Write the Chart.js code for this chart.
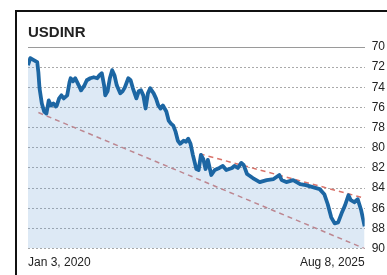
<!DOCTYPE html>
<html>
<head>
<meta charset="utf-8">
<title>USDINR</title>
<script src="https://cdn.jsdelivr.net/npm/chart.js@4/dist/chart.umd.min.js"></script>
<style>
  html, body { margin: 0; padding: 0; background: #fff; }
  #wrap { position: relative; width: 387px; height: 275px; overflow: hidden; }
  #frame {
    position: absolute; left: 15px; top: 10px; width: 420px; height: 300px;
    border-top: 2px solid #111; border-left: 2px solid #111;
  }
  #chart { position: absolute; left: 0; top: 0; }
</style>
</head>
<body>
<div id="wrap">
  <div id="frame"></div>
  <canvas id="chart" width="392" height="278"></canvas>
</div>
<script>
// USDINR weekly close, Jan 3 2020 -> Aug 8 2025 (x = weeks since start)
const weeks = [0, 2, 5, 8, 9, 10, 12, 14, 16, 18, 20, 22, 24, 25, 27, 29, 31, 34, 36, 37,
  39, 41, 44, 46, 49, 51, 54, 57, 60, 62, 64, 66, 67, 69, 71, 73, 75, 77, 80, 82,
  84, 87, 89, 91, 94, 96, 98, 100, 102, 104, 106, 109, 111, 113, 115, 117, 120, 122, 124, 126,
  128, 130, 132, 135, 137, 139, 141, 143, 146, 148, 150, 152, 154, 156, 158, 159, 162, 166, 169, 172,
  177, 179, 182, 185, 187, 190, 195, 201, 207, 213, 218, 220, 224, 230, 236, 241, 247, 253, 257, 260,
  263, 266, 269, 272, 275, 278, 280, 283, 286, 289, 292];
const usdinr = [71.8, 71.1, 71.3, 71.5, 72.5, 74.1, 75.6, 76.4, 76.6, 75.3, 75.8, 75.6, 75.9, 75.8, 75.1, 74.8, 75.1, 74.8, 73.5, 73.1,
  73.4, 73.1, 73.8, 74.3, 73.8, 73.3, 73.1, 73.0, 73.1, 72.8, 72.6, 73.8, 74.8, 74.4, 73.1, 72.3, 72.8, 73.8, 74.6, 74.4,
  74.0, 73.1, 73.3, 74.1, 75.1, 74.4, 74.3, 74.8, 76.1, 74.6, 74.1, 74.6, 75.1, 75.8, 76.1, 75.8, 76.4, 77.3, 77.6, 77.8,
  78.4, 79.3, 79.6, 79.3, 79.4, 79.1, 79.6, 80.7, 82.1, 82.2, 80.7, 81.1, 82.1, 81.2, 82.2, 82.7, 82.2, 82.0, 81.8, 82.2,
  82.0, 81.8, 82.0, 81.5, 81.7, 82.6, 83.0, 83.4, 83.2, 83.1, 82.7, 83.2, 83.4, 83.2, 83.6, 83.7, 83.9, 84.1, 84.6, 85.6,
  86.9, 87.5, 87.4, 86.5, 85.7, 84.7, 85.2, 85.4, 85.1, 86.2, 87.8];

// dashed trend lines
const lowerTrendWeeks = [9, 292];
const lowerTrendValues = [76.5, 90];
const upperTrendWeeks = [149, 292];
const upperTrendValues = [80.6, 85.0];

const yTicks = [70, 72, 74, 76, 78, 80, 82, 84, 86, 88, 90];
const dateLabels = ['Jan 3, 2020', 'Aug 8, 2025'];

const labelFont = "'Liberation Sans', Arial, sans-serif";

const toPoints = (xs, ys) => xs.map((x, i) => ({ x: x, y: ys[i] }));

new Chart(document.getElementById('chart'), {
    type: 'line',
    data: {
        datasets: [
            {
                label: 'USDINR',
                data: toPoints(weeks, usdinr),
                borderColor: '#1c66a3',
                borderWidth: 3.8,
                backgroundColor: 'rgba(100, 155, 210, 0.22)',
                fill: { value: 90 },
                pointRadius: 0,
                tension: 0,
                borderJoinStyle: 'round'
            },
            {
                label: 'upper',
                data: toPoints(upperTrendWeeks, upperTrendValues),
                borderColor: '#d9736a',
                borderWidth: 1.5,
                borderDash: [5, 4],
                pointRadius: 0,
                fill: false
            },
            {
                label: 'lower',
                data: toPoints(lowerTrendWeeks, lowerTrendValues),
                borderColor: '#bd8791',
                borderWidth: 1.5,
                borderDash: [5, 4],
                pointRadius: 0,
                fill: false
            }
        ]
    },
    options: {
        responsive: false,
        animation: false,
        // canvas is a little larger than the window; axis boxes carry padding on both sides
        layout: { padding: { left: 28, right: 0, top: 24, bottom: 1 } },
        plugins: {
            legend: { display: false },
            tooltip: { enabled: false },
            filler: { drawTime: 'beforeDatasetsDraw' },
            title: {
                display: true,
                text: 'USDINR',
                align: 'start',
                color: '#222',
                font: { family: labelFont, size: 15, weight: 'bold' },
                padding: { top: 0, bottom: 5 }
            }
        },
        scales: {
            x: {
                type: 'linear',
                min: 0,
                max: 292,
                grid: { display: false, drawTicks: false },
                border: { display: false },
                afterBuildTicks: (axis) => { axis.ticks = [{ value: 0 }, { value: 292 }]; },
                ticks: {
                    autoSkip: false,
                    maxRotation: 0,
                    align: 'inner',
                    padding: 7,
                    color: '#222',
                    font: { family: labelFont, size: 12 },
                    callback: (value, index) => dateLabels[index]
                }
            },
            xTop: {
                type: 'linear',
                position: 'top',
                min: 0,
                max: 292,
                grid: { display: false, drawTicks: false },
                ticks: { display: false },
                border: { display: true, color: '#9a9a9a', width: 1 }
            },
            y: {
                position: 'right',
                reverse: true,
                min: 70,
                max: 90,
                afterBuildTicks: (axis) => { axis.ticks = yTicks.map(v => ({ value: v })); },
                grid: { color: '#aaaaaa', lineWidth: 1, drawTicks: false },
                border: { display: false, dash: [2, 2] },
                ticks: {
                    autoSkip: false,
                    padding: 7,
                    color: '#222',
                    font: { family: labelFont, size: 12 }
                }
            }
        }
    }
});
</script>
</body>
</html>
